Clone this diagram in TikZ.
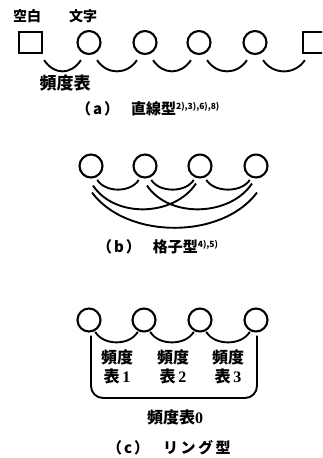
\documentclass[tikz,border=0pt]{standalone}
\usepackage{fontspec}
\newfontfamily\cjk{Noto Sans CJK JP}
\newfontfamily\digf{Liberation Serif}
\newcommand{\supf}{\cjk\bfseries\fontsize{8.5}{8.5}\selectfont}
\newcommand{\dig}[1]{{\digf\bfseries #1}}
\begin{document}
\begin{tikzpicture}[x=1pt,y=-1pt,line width=2.1pt,
  ring/.style={draw,circle,minimum size=23pt,inner sep=0pt,line width=2.1pt},
  blank/.style={draw,rectangle,minimum width=23pt,minimum height=21pt,inner sep=0pt,line width=2.3pt},
  hdr/.style={inner sep=0pt,font=\cjk\bfseries\fontsize{14}{16}\selectfont},
  lbl/.style={inner sep=0pt,font=\cjk\bfseries\fontsize{17}{19}\selectfont},
  lblc/.style={inner sep=0pt,align=center,font=\cjk\bfseries\fontsize{16}{18.5}\selectfont},
  capt/.style={inner sep=0pt,anchor=west,font=\cjk\bfseries\fontsize{15}{17}\selectfont},
  link/.style={line width=1.9pt}]
\useasboundingbox (0,0) rectangle (322,458);
\clip (0,0) rectangle (322,458);
% ---------------- (a)
\node[hdr] (kuhaku) at (27,16) {空白};
\node[hdr] (moji) at (83,16) {文字};
\node[blank] (s0) at (30.5,42.5) {};
\foreach \i/\x in {1/89,2/145,3/199,4/255} \node[ring] (a\i) at (\x,42.5) {};
\node[blank] (s5) at (314.5,42.5) {};
\draw[link] ([shift={(1,6)}]s0.south east) .. controls +(10,15) and +(-10,15) .. ([shift={(0,8)}]a1.-130);
\foreach \i/\j in {1/2,2/3,3/4}
  \draw[link] ([shift={(0,8)}]a\i.-50) .. controls +(10,15) and +(-10,15) .. ([shift={(0,8)}]a\j.-130);
\draw[link] ([shift={(0,8)}]a4.-50) .. controls +(10,15) and +(-10,15) .. ([shift={(3,6)}]s5.south west);
\node[lbl] (freq) at (65,83) {頻度表};
\node[capt] (capa) at (75,109) {（\hspace{2pt}a\hspace{2pt}）\hspace{12pt}直線型\raisebox{5pt}{\supf 2),3),6),8)}};
% ---------------- (b)
\foreach \i/\x in {1/91,2/145,3/200,4/256} \node[ring] (b\i) at (\x,166) {};
\foreach \i/\j in {1/2,2/3,3/4}
  \draw[link] ([shift={(0,3)}]b\i.-60) .. controls +(8,13) and +(-8,13) .. ([shift={(0,3)}]b\j.-120);
\draw[link] ([shift={(2,7)}]b1.south) .. controls +(22,33) and +(-22,33) .. ([shift={(-4,5)}]b3.south);
\draw[link] ([shift={(2,7)}]b2.south) .. controls +(22,33) and +(-22,33) .. ([shift={(-4,5)}]b4.south);
\draw[link] ([shift={(1,14)}]b1.south) .. controls +(35,47) and +(-35,47) .. ([shift={(1,14)}]b4.south);
\node[capt] (capb) at (96,247) {（\hspace{2pt}b\hspace{2pt}）\hspace{12pt}格子型\raisebox{5pt}{\supf 4),5)}};
% ---------------- (c)
\foreach \i/\x in {1/89,2/144,3/200,4/256} \node[ring] (c\i) at (\x,320) {};
\foreach \i/\j in {1/2,2/3,3/4}
  \draw[link] ([shift={(0,1)}]c\i.-60) .. controls +(8,14) and +(-8,14) .. ([shift={(0,1)}]c\j.-120);
\coordinate (cbot) at (175,398);
\draw[link,rounded corners=12pt] ([shift={(2,3)}]c1.south) |- (cbot) -| ([shift={(1,3)}]c4.south);
\node[lblc] (f1) at (117,367) {頻度\\表\,\dig{1}};
\node[lblc] (f2) at (173,367) {頻度\\表\,\dig{2}};
\node[lblc] (f3) at (228,367) {頻度\\表\,\dig{3}};
\node[lblc] (f0) at (175,417) {頻度表\dig{0}};
\node[capt] (capc) at (106,448) {（\hspace{2pt}c\hspace{2pt}）\hspace{14pt}リ\hspace{2.5pt}ン\hspace{2.5pt}グ\hspace{2.5pt}型};
\end{tikzpicture}
\end{document}
